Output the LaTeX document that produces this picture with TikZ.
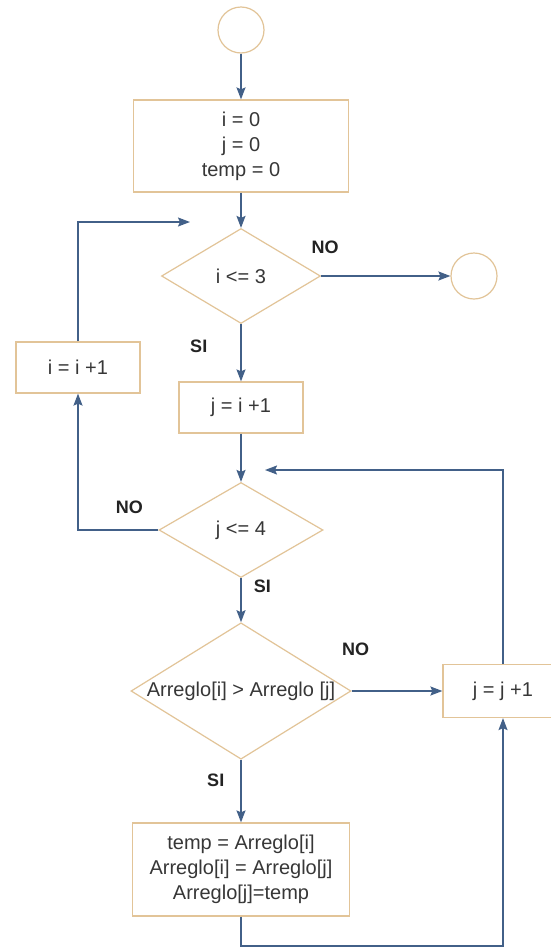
\documentclass[tikz,border=0pt]{standalone}
\usepackage{fontspec}
\setmainfont{Liberation Sans}
\usetikzlibrary{shapes.geometric,arrows.meta}

\begin{document}
\begin{tikzpicture}[x=1pt, y=-1pt,
  box/.style={draw=boxline, line width=1.2pt, fill=white, text=txtgray, font=\fontsize{20}{25}\selectfont, align=center, inner sep=0pt},
  decision/.style={box, diamond, aspect=1.6},
  terminal/.style={draw=boxline, line width=1.2pt, circle, minimum size=46pt, inner sep=0pt},
  flow/.style={->, >={Stealth[length=12pt, width=9pt, inset=2pt]}, line width=1.5pt, color=arrowblue},
  tag/.style={font=\bfseries\fontsize{18}{20}\selectfont, text=taggray, inner sep=0pt}]

\definecolor{boxline}{RGB}{226,196,152}
\definecolor{arrowblue}{RGB}{66,96,136}
\definecolor{txtgray}{RGB}{55,55,55}
\definecolor{taggray}{RGB}{35,35,35}

\path[use as bounding box, fill=white] (0,0) rectangle (551,948);

\node[terminal] (start) at (241,30) {};
\node[box, minimum width=215pt, minimum height=92pt] (init) at (241,146) {i = 0\\ j = 0\\ temp = 0};
\node[decision, minimum width=159pt, minimum height=95pt] (cond1) at (241,276) {i <= 3};
\node[terminal] (stop) at (474,276) {};
\node[box, minimum width=124pt, minimum height=51pt] (inci) at (78,367.5) {i = i +1};
\node[box, minimum width=124pt, minimum height=51pt] (setj) at (241,407.5) {j = i +1};
\node[decision, minimum width=164pt, minimum height=95pt] (cond2) at (241,530) {j <= 4};
\node[decision, minimum width=220pt, minimum height=132pt] (cond3) at (241,691) {Arreglo[i] > Arreglo [j]};
\node[box, minimum width=120pt, minimum height=53pt] (incj) at (503,691) {j = j +1};
\node[box, minimum width=217pt, minimum height=93pt] (swap) at (241,869.5) {temp = Arreglo[i]\\ Arreglo[i] = Arreglo[j]\\ Arreglo[j]=temp};

\coordinate (back1) at (190,222);
\coordinate (back2) at (265,470);
\coordinate (low) at (0,946);

\draw[flow] (start) -- (init);
\draw[flow] (init) -- (cond1);
\draw[flow] (cond1) -- node[tag, pos=0, xshift=4pt, yshift=29pt] {NO} (stop);
\draw[flow] (cond1) -- node[tag, pos=0.38, left=33pt] {SI} (setj);
\draw[flow] (inci.north) |- (back1);
\draw[flow] (setj) -- (cond2);
\draw[flow] (cond2.west) -| node[tag, pos=0.18, above=16pt] {NO} (inci.south);
\draw[flow] (cond2) -- node[tag, pos=0.19, right=12pt] {SI} (cond3);
\draw[flow] (cond3) -- node[tag, pos=0, xshift=4pt, yshift=42pt] {NO} (incj);
\draw[flow] (incj.north) |- (back2);
\draw[flow] (cond3) -- node[tag, pos=0.32, left=16pt] {SI} (swap);
\draw[flow] (swap.south) -- (swap.south |- low) -| (incj.south);

\end{tikzpicture}
\end{document}
